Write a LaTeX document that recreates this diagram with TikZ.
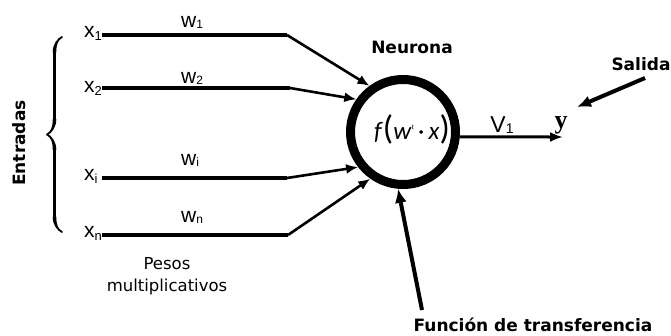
\documentclass[tikz,border=0pt]{standalone}
\usepackage{fontspec}
\setmainfont{DejaVu Sans}
\newfontfamily\arialfont{Liberation Sans}
\newfontfamily\formfont{Carlito}
\newfontfamily\seriffont{Liberation Serif}
\usetikzlibrary{arrows.meta,decorations.pathreplacing,calligraphy}

\newcommand\xin[1]{x\raisebox{-3pt}{\fontsize{13}{13}\selectfont #1}}
\newcommand\win[1]{w\raisebox{-1pt}{\fontsize{12}{12}\selectfont #1}}

\begin{document}
\begin{tikzpicture} [x=1pt, y=-1pt,
    inlabel/.style={font=\arialfont\fontsize{21}{21}\selectfont, inner sep=0pt, anchor=base west},
    title/.style={font=\bfseries\fontsize{17}{17}\selectfont, inner sep=0pt, anchor=base},
    weight/.style={line width=4pt},
    feed/.style={line width=2.6pt, -{Latex[length=12pt,width=10pt]}},
    bigarrow/.style={line width=4pt, -{Latex[length=14pt,width=12pt]}}]

        \useasboundingbox (0,0) rectangle (671,335);

        % neuron
        \node[circle, draw, line width=9pt, minimum size=105pt, inner sep=0pt] (n) at (403,132) {};
        \node[inner sep=0pt] (f) at (412,129) {\formfont\fontsize{25}{25}\selectfont
            \textit{f}{\fontsize{34}{34}\selectfont(}\textit{w}\raisebox{10pt}{\fontsize{7}{7}\selectfont\textit{t}}\,·\,\textit{x}{\fontsize{34}{34}\selectfont)}};

        % inputs
        \node[inlabel] (x1) at (84, 37) {\xin{1}};
        \node[inlabel] (x2) at (84, 92) {\xin{2}};
        \node[inlabel] (xi) at (84, 180) {\xin{i}};
        \node[inlabel] (xn) at (84, 237) {\xin{n}};

        \node[inlabel] (w1) at (181, 27) {\win{1}};
        \node[inlabel] (w2) at (181, 83) {\win{2}};
        \node[inlabel] (wi) at (181, 165) {\win{i}};
        \node[inlabel] (wn) at (181, 222) {\win{n}};

        \coordinate (a1) at (102, 35);
        \coordinate (a2) at (102, 88);
        \coordinate (ai) at (102, 178);
        \coordinate (an) at (102, 235);
        \coordinate (b1) at (287, 35);
        \coordinate (b2) at (290, 88);
        \coordinate (bi) at (287, 178);
        \coordinate (bn) at (288, 235);

        \draw[weight] (a1) -- (b1);
        \draw[weight] (a2) -- (b2);
        \draw[weight] (ai) -- (bi);
        \draw[weight] (an) -- (bn);

        \draw[feed] (b1) -- (n.126);
        \draw[feed] (b2) -- (n.145);
        \draw[feed] (bi) -- (n.218);
        \draw[feed] (bn) -- (n.235);

        % brace
        \coordinate (e0) at (62, 232);
        \coordinate (e1) at (62, 37);
        \draw[decorate, decoration={calligraphic brace, amplitude=15pt}, line width=3.6pt] (e0) -- (e1);

        % output
        \coordinate (o1) at (563, 137);
        \draw[line width=3pt, -{Latex[length=13pt,width=10pt]}] (n.-5) -- (o1);
        \node[inner sep=0pt, font=\arialfont\fontsize{23}{23}\selectfont, anchor=base] (v1) at (502, 132)
            {V\raisebox{-1pt}{\fontsize{14}{14}\selectfont 1}};
        \node[inner sep=0pt, font=\seriffont\bfseries\fontsize{26}{26}\selectfont, anchor=base] (y) at (561, 128) {y};

        % titles
        \node[title] (neurona) at (412, 53) {Neurona};
        \node[title] (salida) at (641, 70) {Salida};
        \node[title, rotate=90] (entradas) at (25, 143) {Entradas};
        \node[title] (fdt) at (533, 331) {Función de transferencia};
        \node[inner sep=0pt, align=center, font=\fontsize{16.5}{22}\selectfont] (pesos) at (167, 276)
            {Pesos\\multiplicativos};

        \coordinate (s0) at (645, 78);
        \coordinate (s1) at (577, 107);
        \draw[bigarrow] (s0) -- (s1);

        \coordinate (t0) at (422, 310);
        \draw[bigarrow] (t0) -- (n.265);
    \end{tikzpicture}
\end{document}
